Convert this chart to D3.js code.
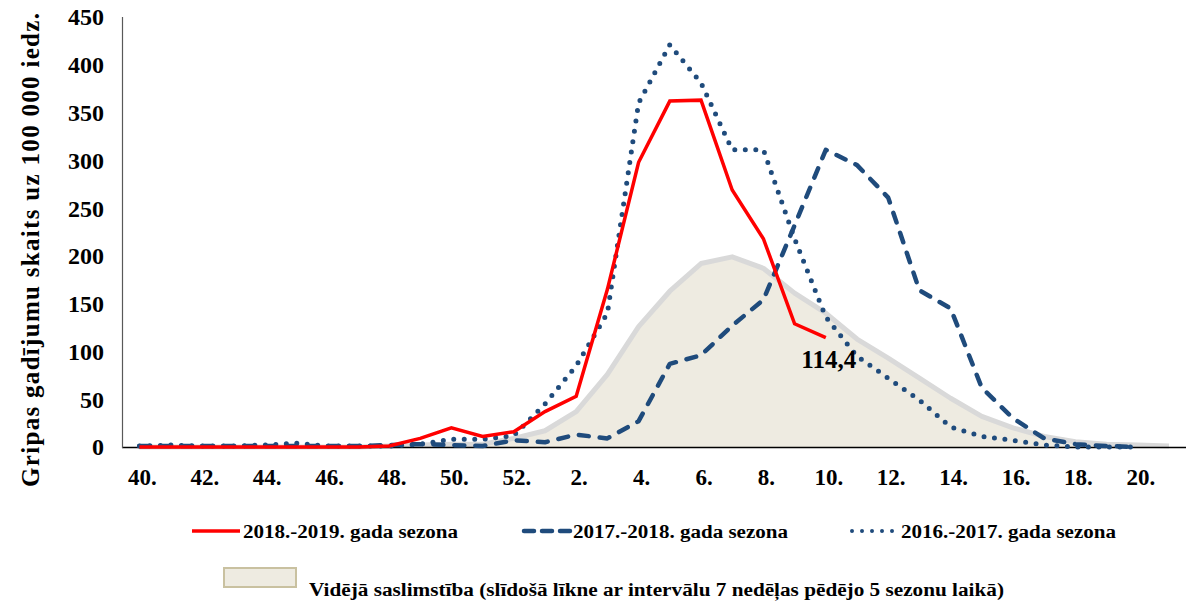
<!DOCTYPE html>
<html><head><meta charset="utf-8">
<script src="https://cdn.jsdelivr.net/npm/d3@7"></script>
<style>html,body{margin:0;padding:0;background:#fff}svg{display:block}text{font-family:"Liberation Serif","Times New Roman",serif;font-weight:bold}</style>
</head><body>
<svg id="c" width="1186" height="602"></svg>
<script>
const weeks = ["40","41","42","43","44","45","46","47","48","49","50","51","52","1","2","3","4","5","6","7","8","9","10","11","12","13","14","15","16","17","18","19","20","21"];
const tickWeeks = ["40","42","44","46","48","50","52","2","4","6","8","10","12","14","16","18","20"];
const yTicks = [0,50,100,150,200,250,300,350,400,450];
const s2018 = [0,0,0,0,0,0,0,0,1,9,20,11,16,37,53,165,298,362,363,269,218,129,114.4];
const s2017 = [1,1,1,1,1,1,1,1,2,3,2,1,7,5,13,9,27,87,96,127,154,232,311,295,261,164,145,62,30,9,3,1,0];
const s2016 = [1,2,1,1,2,4,1,1,1,3,8,8,12,45,85,140,360,421,381,311,311,218,136,95,72,49,21,11,7,2,0,0,0];
const avg = [0,0,0,0,0,0,0,0,1,2,3,3,9,17,37,76,126,163,192,199,187,161,140,113,93,72,51,32,20,11,5.5,3,2,1];
const labelText = "114,4";

const svg = d3.select("#c");
const x = d3.scalePoint().domain(weeks).range([139.4, 139.4 + 33*31.2]);
const y = d3.scaleLinear().domain([0,450]).range([447,17]);
const blue = "#1f4b7c";

const areaGen = d3.area().x((d,i)=>x(weeks[i])).y0(y(0)).y1(d=>y(d));
const lineGen = d3.line().x((d,i)=>x(weeks[i])).y(d=>y(d));
svg.append("path").attr("d", areaGen(avg)).attr("fill","#eeebe1");
svg.append("path").attr("d", lineGen(avg)).attr("fill","none").attr("stroke","#d9d9d9").attr("stroke-width",5).attr("stroke-linejoin","round");

svg.append("line").attr("x1",122).attr("x2",1186).attr("y1",y(0)+0.5).attr("y2",y(0)+0.5).attr("stroke","#000").attr("stroke-width",1.5);
svg.append("line").attr("x1",122.5).attr("x2",122.5).attr("y1",17).attr("y2",y(0)+1).attr("stroke","#595959").attr("stroke-width",1.2);

svg.append("path").attr("d", lineGen(s2016)).attr("fill","none").attr("stroke",blue).attr("stroke-width",5)
  .attr("stroke-dasharray","0,10.5").attr("stroke-linecap","round").attr("stroke-linejoin","round");
svg.append("path").attr("d", lineGen(s2017)).attr("fill","none").attr("stroke",blue).attr("stroke-width",4.5)
  .attr("stroke-dasharray","10,11").attr("stroke-linecap","round").attr("stroke-linejoin","round");
svg.append("path").attr("d", lineGen(s2018)).attr("fill","none").attr("stroke","#ff0000").attr("stroke-width",3.5).attr("stroke-linejoin","miter");

svg.selectAll(".yt").data(yTicks).enter().append("text")
  .attr("x",104).attr("y",d=>y(d)).attr("dy","0.35em").attr("text-anchor","end")
  .attr("font-size",24).attr("fill","#000").text(d=>d);
svg.selectAll(".xt").data(tickWeeks).enter().append("text")
  .attr("x",d=>x(d)+3).attr("y",477).attr("dy","0.35em").attr("text-anchor","middle")
  .attr("font-size",23).attr("fill","#000").text(d=>d+".");

svg.append("text").attr("transform","translate(30,250) rotate(-90)").attr("text-anchor","middle").attr("dy","0.35em")
  .attr("font-size",25).attr("fill","#000").attr("textLength",474).attr("lengthAdjust","spacing")
  .text("Gripas gadījumu skaits uz 100 000 iedz.");

svg.append("text").attr("x",x("10")+3).attr("y",359).attr("dy","0.35em").attr("text-anchor","middle")
  .attr("font-size",25).attr("fill","#000").text(labelText);

const lg = svg.append("g");
lg.append("line").attr("x1",192).attr("x2",240).attr("y1",531).attr("y2",531).attr("stroke","#ff0000").attr("stroke-width",3.5);
lg.append("text").attr("x",243).attr("y",532).attr("dy","0.35em").attr("font-size",18).attr("textLength",215).attr("lengthAdjust","spacingAndGlyphs").text("2018.-2019. gada sezona");
lg.append("line").attr("x1",524).attr("x2",570).attr("y1",531).attr("y2",531).attr("stroke",blue).attr("stroke-width",4.5).attr("stroke-dasharray","10,8").attr("stroke-linecap","round");
lg.append("text").attr("x",573).attr("y",532).attr("dy","0.35em").attr("font-size",18).attr("textLength",215).attr("lengthAdjust","spacingAndGlyphs").text("2017.-2018. gada sezona");
lg.append("line").attr("x1",852).attr("x2",898).attr("y1",531).attr("y2",531).attr("stroke",blue).attr("stroke-width",4).attr("stroke-dasharray","0,10").attr("stroke-linecap","round");
lg.append("text").attr("x",901).attr("y",532).attr("dy","0.35em").attr("font-size",18).attr("textLength",215).attr("lengthAdjust","spacingAndGlyphs").text("2016.-2017. gada sezona");
lg.append("rect").attr("x",224).attr("y",568).attr("width",72).attr("height",19).attr("fill","#eeebe1").attr("stroke","#c9c1a0").attr("stroke-width",2);
lg.append("text").attr("x",309).attr("y",590).attr("dy","0.35em").attr("font-size",18).attr("textLength",695).attr("lengthAdjust","spacingAndGlyphs").text("Vidējā saslimstība (slīdošā līkne ar intervālu 7 nedēļas pēdējo 5 sezonu laikā)");
</script>
</body></html>
